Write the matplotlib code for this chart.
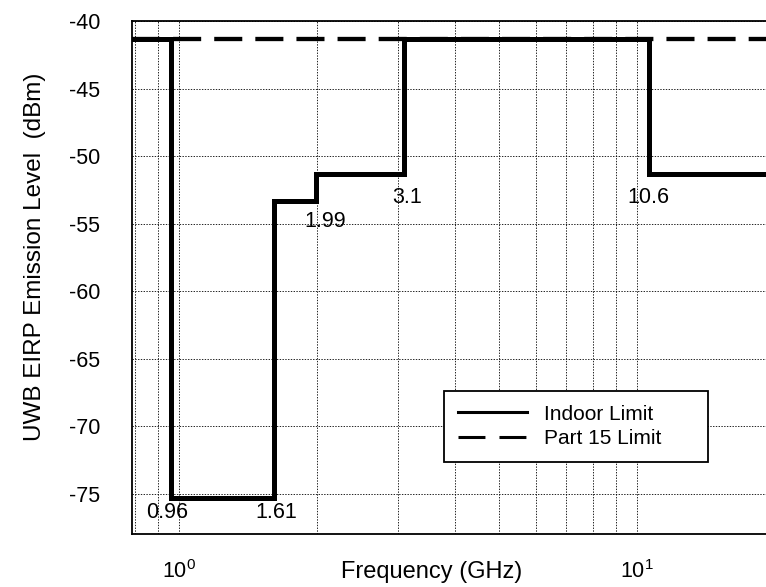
import numpy as np
import matplotlib
matplotlib.use("Agg")
import matplotlib.pyplot as plt
from matplotlib.lines import Line2D
from matplotlib.ticker import LogLocator, NullFormatter

plt.rcParams['font.family'] = ['Liberation Sans', 'DejaVu Sans']
plt.rcParams['mathtext.fontset'] = 'custom'
plt.rcParams['mathtext.rm'] = 'Liberation Sans'
plt.rcParams['mathtext.it'] = 'Liberation Sans'
plt.rcParams['lines.scale_dashes'] = False
plt.rcParams['axes.unicode_minus'] = False

# FCC indoor UWB mask (GHz / dBm)
freq_edges = [0.7, 0.96, 1.61, 1.99, 3.1, 10.6, 40.0]
indoor_levels = [-41.3, -75.3, -53.3, -51.3, -41.3, -51.3]
part15_level = -41.3

break_freqs = [0.96, 1.61, 1.99, 3.1, 10.6]
break_labels = ['0.96', '1.61', '1.99', '3.1', '10.6']
# offset of each label from its corner, in points
label_offsets = [(-2.7, -10.6), (1.9, -10.6), (6.3, -14.7), (1.7, -17.3), (-0.7, -17.3)]

y_ticks = [-75, -70, -65, -60, -55, -50, -45, -40]

W, H = 766, 587
fig = plt.figure(figsize=(W / 100, H / 100), dpi=100)

# axes in pixels (axes runs past the right edge of the picture)
ax_l, ax_r, ax_t, ax_b = 131.7, 855.8, 21.0, 534.3
ax = fig.add_axes([ax_l / W, 1 - ax_b / H, (ax_r - ax_l) / W, (ax_b - ax_t) / H])

ax.set_xscale('log')
ax.set_xlim(0.787, 30)
ax.set_ylim(-78, -40)
ax.set_yticks(y_ticks)
ax.xaxis.set_major_locator(LogLocator(base=10))
ax.xaxis.set_minor_locator(LogLocator(base=10, subs=np.arange(2, 10)))
ax.xaxis.set_minor_formatter(NullFormatter())

grid_style = dict(color='black', linestyle=(0, (1, 1)), linewidth=0.6)
ax.grid(True, which='major', axis='both', **grid_style)
ax.grid(True, which='minor', axis='x', **grid_style)
ax.set_axisbelow(True)

ax.tick_params(which='both', length=0)
ax.tick_params(axis='x', pad=18.5, labelsize=15.5)
ax.tick_params(axis='y', pad=22.8, labelsize=15.5)

for s in ax.spines.values():
    s.set_linewidth(1.3)

# Part 15 limit (dashed) under the indoor mask
ax.axhline(part15_level, color='black', linewidth=3.1, dashes=(20.2, 9.4), zorder=2)

ax.step(freq_edges, indoor_levels + [indoor_levels[-1]], where='post',
        color='black', linewidth=3.6, solid_joinstyle='miter', zorder=3)

for f, lab, off, lo, hi in zip(break_freqs, break_labels, label_offsets,
                               indoor_levels[:-1], indoor_levels[1:]):
    ax.annotate(lab, xy=(f, min(lo, hi)), xytext=off, textcoords='offset points',
                ha='center', va='center', fontsize=15.5, zorder=4)

ax.set_xlabel('Frequency (GHz)', fontsize=17)
ax.xaxis.label.set_va('center')
ax.xaxis.set_label_coords((432 - ax_l) / (ax_r - ax_l), (ax_b - 572) / (ax_b - ax_t))

ax.set_ylabel('UWB EIRP Emission Level  (dBm)', fontsize=17.5)
ax.yaxis.label.set_va('center')
ax.yaxis.set_label_coords((35 - ax_l) / (ax_r - ax_l), (ax_b - 256.5) / (ax_b - ax_t))

handles = [Line2D([], [], color='black', linewidth=2.2),
           Line2D([], [], color='black', linewidth=2.2, dashes=(19.4, 10.1))]
leg_box = (444 / W, 1 - 462 / H, (708.3 - 444) / W, (462 - 391) / H)
leg = fig.legend(handles, ['Indoor Limit', 'Part 15 Limit'], loc='upper left',
                 bbox_to_anchor=leg_box, mode='expand', borderaxespad=0,
                 fontsize=15, handlelength=3.33, handletextpad=0.8,
                 borderpad=0.65, labelspacing=0.27, fancybox=False,
                 framealpha=1, edgecolor='black')
leg.get_frame().set_linewidth(1.3)

fig.savefig('out.png', dpi=100)
